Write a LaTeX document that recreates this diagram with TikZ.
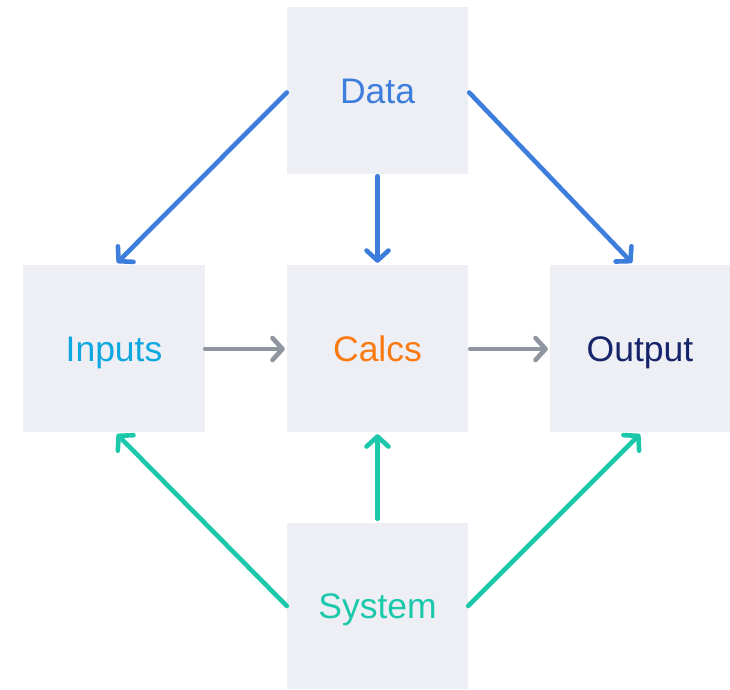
\documentclass[tikz,border=0pt]{standalone}
\usepackage{fontspec}
\setmainfont{Liberation Sans}
\usetikzlibrary{arrows.meta}
\definecolor{boxfill}{HTML}{EEEFF5}
\definecolor{datablue}{HTML}{3D7EDD}
\definecolor{inputcyan}{HTML}{0EA7E0}
\definecolor{calcorange}{HTML}{FA7A12}
\definecolor{outnavy}{HTML}{15246B}
\definecolor{systeal}{HTML}{1CC8AA}
\definecolor{flowgray}{HTML}{8F969F}
\tikzset{
  block/.style={fill=boxfill, draw=none, minimum height=167pt, inner sep=0pt,
    font=\fontsize{35.5}{40}\selectfont, text height=25.4pt, text depth=0pt},
  link/.style={line width=4.6pt, line cap=round,
    -{Straight Barb[length=10pt, width=22pt, line cap=round, line join=round]}},
}
\begin{document}
\begin{tikzpicture}[x=1pt, y=-1pt]
  \useasboundingbox[fill=white] (0,0) rectangle (730,689);

  \node[block, minimum width=181pt, text=datablue]   (data)   at (377.5,90.5)  {Data};
  \node[block, minimum width=182pt, text=inputcyan]  (inputs) at (114,348.5)   {Inputs};
  \node[block, minimum width=181pt, text=calcorange] (calcs)  at (377.5,348.5) {Calcs};
  \node[block, minimum width=180pt, text=outnavy]    (output) at (640,348.5)   {Output};
  \node[block, minimum width=181pt, minimum height=166pt, text=systeal] (system) at (377.5,606) {System};

  % data feeds everything below it
  \draw[link, datablue] ([yshift=-2pt]data.west) -- ([xshift=3pt,yshift=2pt]inputs.north);
  \draw[link, datablue] ([yshift=-2pt]data.south) -- ([yshift=2pt]calcs.north);
  \draw[link, datablue] ([xshift=1pt,yshift=-2pt]data.east) -- ([xshift=-8pt,yshift=2pt]output.north);

  % main flow
  \draw[link, flowgray] ([yshift=-0.5pt]inputs.east) -- ([xshift=-2pt,yshift=-0.5pt]calcs.west);
  \draw[link, flowgray] ([xshift=2pt,yshift=-0.5pt]calcs.east) -- ([xshift=-2pt,yshift=-0.5pt]output.west);

  % system supports everything above it
  \draw[link, systeal] (system.west) -- ([xshift=3pt,yshift=-2pt]inputs.south);
  \draw[link, systeal] ([yshift=4pt]system.north) -- ([yshift=-2pt]calcs.south);
  \draw[link, systeal] (system.east) -- ([yshift=-2pt]output.south);
\end{tikzpicture}
\end{document}
